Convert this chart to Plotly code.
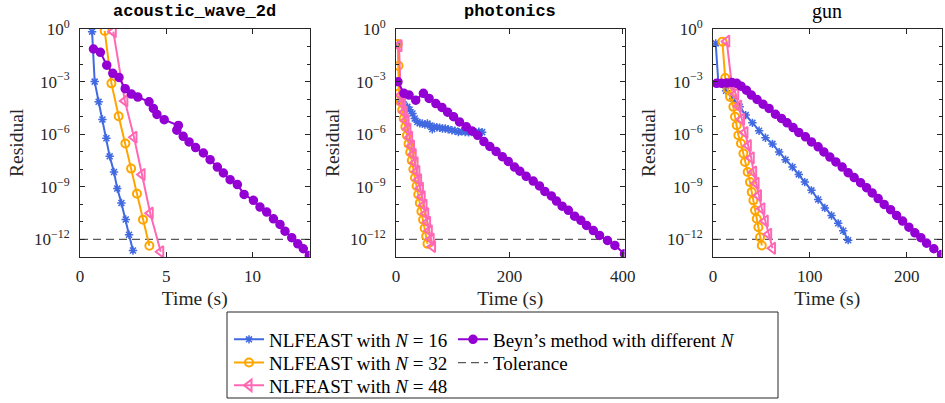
import plotly.graph_objects as go

# ---------------- data (time in s, log10 of residual) ----------------
TITLES = ["acoustic_wave_2d", "photonics", "gun"]
TOLERANCE = 1e-12
X_LIMITS = [13.3, 403, 236]
X_TICKS = [[0, 5, 10], [0, 200, 400], [0, 100, 200]]
Y_TICK_EXPONENTS = [0, -3, -6, -9, -12]
Y_MIN_EXPONENT = -13
X_LABEL = "Time (s)"
Y_LABEL = "Residual"

# acoustic_wave_2d
aw_n16_t = [0.70, 0.85, 1.08, 1.30, 1.53, 1.72, 1.97, 2.16, 2.40, 2.65, 2.84, 3.07]
aw_n16_log = [-0.15, -3.0, -4.15, -5.16, -6.23, -7.26, -8.15, -9.1, -9.92, -10.86, -11.73, -12.63]
aw_n32_t = [1.43, 1.82, 2.24, 2.63, 2.96, 3.30, 3.65, 4.02]
aw_n32_log = [-0.11, -3.1, -4.97, -6.53, -7.96, -9.39, -10.87, -12.36]
aw_n48_t = [1.93, 2.60, 3.13, 3.60, 4.07, 4.68]
aw_n48_log = [-0.15, -4.1, -6.17, -8.3, -10.5, -12.7]
aw_beyn_t = [0.78, 1.18, 1.55, 1.90, 2.26, 2.62, 2.98, 3.35, 4.00, 4.25, 4.46, 4.88, 5.70,
             5.61, 5.98, 6.32, 6.70, 7.15, 7.54, 7.96, 8.31, 8.70, 9.12, 9.51, 10.05, 10.43,
             10.82, 11.21, 11.59, 11.88, 12.27, 12.62, 12.94, 13.29]
aw_beyn_log = [-1.14, -1.33, -2.06, -2.53, -2.76, -3.40, -3.71, -3.88, -4.15, -4.53, -4.87, -5.17,
               -5.50, -5.77, -6.12, -6.44, -6.76, -7.07, -7.45, -7.87, -8.21, -8.59, -8.87, -9.43,
               -9.77, -10.15, -10.44, -10.82, -11.14, -11.53, -11.90, -12.25, -12.53, -12.91]

# photonics
ph_n16_t = [3.5, 8.3, 14, 20, 24, 29, 33, 37.7, 42, 46.5, 51, 55.4, 60, 64, 67, 72, 77, 82, 87,
            92, 98.6, 104, 110, 116, 122, 128, 134, 140, 146, 152]
ph_n16_log = [-0.91, -4.15, -4.3, -4.44, -4.6, -4.82, -5.1, -5.3, -5.38, -5.39, -5.45, -5.39,
              -5.5, -5.72, -5.58, -5.6, -5.63, -5.67, -5.67, -5.72, -5.77, -5.8, -5.87, -5.84,
              -5.87, -5.89, -5.87, -5.9, -5.86, -5.88]
ph_n32_t = [3.0, 4.5, 5.3, 8.0, 10.8, 13.6, 16.5, 19.3, 22.1, 25.0, 27.8, 30.6, 33.5, 36.3,
            39.2, 42.0, 44.8, 47.7, 50.5, 53.2, 55.5]
ph_n32_log = [-0.85, -2.1, -3.67, -4.15, -4.62, -5.1, -5.58, -6.07, -6.55, -7.03, -7.5, -8.0,
              -8.48, -8.95, -9.44, -9.92, -10.4, -10.88, -11.36, -11.82, -12.25]
ph_n48_t = [5.3, 8.3, 11.5, 14.6, 17.8, 21.0, 24.1, 27.3, 30.4, 33.6, 36.8, 39.9, 43.1, 46.2,
            49.4, 52.5, 55.7, 58.8, 62.0, 64.5]
ph_n48_log = [-0.95, -3.77, -4.25, -4.73, -5.22, -5.7, -6.18, -6.67, -7.15, -7.63, -8.12, -8.6,
              -9.08, -9.57, -10.05, -10.53, -11.02, -11.5, -11.98, -12.4]
ph_beyn_t = [3.5, 14, 23, 34.8, 48.3, 58.4, 70.3, 81, 91, 101.5, 112, 124, 134, 144, 155, 165.5,
             176.5, 187.5, 198, 209, 218.5, 229.6, 242, 253, 262.5, 274, 283, 293, 304, 315, 326,
             336, 348, 359, 373, 386, 403]
ph_beyn_log = [-3.01, -3.67, -3.77, -4.06, -3.67, -3.96, -4.25, -4.47, -4.74, -5.0, -5.3, -5.58,
               -5.81, -6.06, -6.42, -6.7, -6.98, -7.28, -7.55, -7.87, -8.11, -8.4, -8.67, -8.95,
               -9.26, -9.52, -9.81, -10.1, -10.34, -10.67, -10.91, -11.2, -11.49, -11.77,
               -12.06, -12.34, -12.82]

# gun
gun_n16_t = [2.8, 5.5, 13.5, 20.7, 27.6, 33.8, 40.7, 47.6, 54.2, 61.4, 68.3, 74.9, 82.1, 88.6,
             94.8, 101.7, 108.6, 115.5, 122.4, 129.3, 134.5, 139.6]
gun_n16_log = [-0.82, -3.05, -3.52, -3.98, -4.44, -4.91, -5.35, -5.8, -6.2, -6.55, -7.02, -7.45,
               -7.87, -8.29, -8.73, -9.2, -9.72, -10.2, -10.63, -11.08, -11.5, -12.04]
gun_n32_t = [9.7, 12.6, 15.0, 17.6, 21.0, 22.7, 24.5, 26.2, 28.9, 31.4, 33.0, 35.8, 38.2, 40.0,
             41.7, 43.4, 45.2, 46.9, 48.6, 50.4]
gun_n32_log = [-0.72, -2.8, -3.4, -3.87, -4.44, -5.0, -5.49, -6.06, -6.53, -7.1, -7.58, -8.15,
               -8.73, -9.3, -9.77, -10.34, -10.82, -11.3, -11.87, -12.34]
gun_n48_t = [14.2, 19.5, 23.5, 26.5, 29.5, 33.0, 36.5, 39.5, 42.0, 44.5, 47.0, 50.5, 54.0,
             57.5, 61.5]
gun_n48_log = [-0.7, -3.2, -3.7, -4.4, -5.15, -5.9, -6.65, -7.35, -8.15, -8.8, -9.5, -10.25,
               -10.95, -11.7, -12.5]
gun_beyn_t = [3.8, 9.0, 14.2, 19.5, 24.5, 29.0, 34.5, 39.6, 45.5, 51.7, 57.9, 64.5, 70.7, 76.5,
              82.7, 88.6, 95.5, 101.7, 108.6, 114.5, 120.7, 126.9, 133.4, 139.6, 145.8, 152.4,
              158.6, 164.4, 170.6, 176.8, 183.4, 189.6, 195.8, 202.3, 208.5, 214.7, 220.6,
              228.1, 236.0]
gun_beyn_log = [-3.1, -3.1, -3.08, -3.05, -3.1, -3.26, -3.49, -3.77, -4.02, -4.29, -4.53, -4.86,
                -5.1, -5.35, -5.62, -5.9, -6.15, -6.44, -6.72, -7.01, -7.3, -7.58, -7.87, -8.19,
                -8.47, -8.76, -9.05, -9.35, -9.67, -10.0, -10.3, -10.63, -10.95, -11.3, -11.62,
                -11.9, -12.21, -12.53, -12.86]

SERIES_NAMES = ["NLFEAST with <i>N</i> = 16", "NLFEAST with <i>N</i> = 32",
                "NLFEAST with <i>N</i> = 48", "Beyn’s method with different <i>N</i>"]
TOL_NAME = "Tolerance"

panels = [
    [(aw_n16_t, aw_n16_log), (aw_n32_t, aw_n32_log), (aw_n48_t, aw_n48_log), (aw_beyn_t, aw_beyn_log)],
    [(ph_n16_t, ph_n16_log), (ph_n32_t, ph_n32_log), (ph_n48_t, ph_n48_log), (ph_beyn_t, ph_beyn_log)],
    [(gun_n16_t, gun_n16_log), (gun_n32_t, gun_n32_log), (gun_n48_t, gun_n48_log), (gun_beyn_t, gun_beyn_log)],
]

# ---------------- styling ----------------
W, H = 945, 403
COLORS = ["#4169E1", "#FFA500", "#FF69B4", "#9400D3"]
SYMBOLS = ["asterisk-open", "circle-open", "triangle-left-open", "circle"]
SIZES = [7, 8, 10, 8]
AXCOL = "#262626"
SERIF = "Liberation Serif"

x_doms = [(80, 309.5), (396, 624.5), (713, 941.5)]
y_top, y_bot = 29, 257
Y_LABEL_X = [16, 332, 648]

# legend slots (one legend per entry, laid out as MATLAB's 2-column legend)
LEG_COL_X = [229, 453]
LEG_ROW_Y = [339.5, 362.7, 385.5]
series_slot = [(0, 0), (0, 1), (0, 2), (1, 0)]   # (column, row) for N16, N32, N48, Beyn
tol_slot = (1, 1)
LEG_BOX = (227, 312, 778, 398)


def px_x(p):
    return p / W


def px_y(p):
    return 1 - p / H


fig = go.Figure()

legend_layouts = {}


def legend_name(idx):
    return "legend" if idx == 0 else f"legend{idx+1}"


def add_legend(idx, slot):
    c, r = slot
    legend_layouts[legend_name(idx)] = dict(
        xref="container", yref="container",
        x=px_x(LEG_COL_X[c]), y=px_y(LEG_ROW_Y[r]), xanchor="left", yanchor="middle",
        bgcolor="rgba(0,0,0,0)", borderwidth=0,
        font=dict(family=SERIF, size=19, color="black"),
        itemwidth=30, tracegroupgap=0,
    )


for k in range(4):
    add_legend(k, series_slot[k])
add_legend(4, tol_slot)

for i, series in enumerate(panels):
    xa = "x" if i == 0 else f"x{i+1}"
    ya = "y" if i == 0 else f"y{i+1}"
    fig.add_trace(go.Scatter(
        x=[0, X_LIMITS[i]], y=[TOLERANCE, TOLERANCE], mode="lines",
        line=dict(color="#595959", width=1.3, dash="8px,5px"),
        name=TOL_NAME, showlegend=(i == 0), legend=legend_name(4),
        xaxis=xa, yaxis=ya))
    for k, (t, lg) in enumerate(series):
        fig.add_trace(go.Scatter(
            x=t, y=[10 ** v for v in lg], mode="lines+markers",
            line=dict(color=COLORS[k], width=2),
            marker=dict(symbol=SYMBOLS[k], size=SIZES[k], color=COLORS[k],
                        line=dict(color=COLORS[k], width=2 if k in (1, 2) else 1.5)),
            name=SERIES_NAMES[k], showlegend=(i == 0), legend=legend_name(k),
            xaxis=xa, yaxis=ya))

layout = dict(
    width=W, height=H,
    margin=dict(l=0, r=0, t=0, b=0, pad=0, autoexpand=False),
    paper_bgcolor="white", plot_bgcolor="white",
    font=dict(family=SERIF, size=17, color=AXCOL),
    showlegend=True,
    shapes=[dict(type="rect", xref="paper", yref="paper",
                 x0=px_x(LEG_BOX[0]), x1=px_x(LEG_BOX[2]),
                 y0=px_y(LEG_BOX[3]), y1=px_y(LEG_BOX[1]),
                 line=dict(color=AXCOL, width=1), fillcolor="rgba(0,0,0,0)", layer="below")],
)
layout.update(legend_layouts)

y_tickvals = [10 ** e for e in Y_TICK_EXPONENTS]
y_ticktext = [f"10<sup>{'−' + str(-e) if e < 0 else e}</sup>" for e in Y_TICK_EXPONENTS]
minor_vals = [10 ** (-k) for k in range(0, 14)]

annotations = []
for i in range(3):
    sx = "" if i == 0 else str(i + 1)
    x0, x1 = x_doms[i]
    layout[f"xaxis{sx}"] = dict(
        domain=[px_x(x0), px_x(x1)], range=[0, X_LIMITS[i]], automargin=False,
        anchor=f"y{sx}", showline=True, linecolor=AXCOL, linewidth=1, mirror="allticks",
        ticks="inside", ticklen=5, tickcolor=AXCOL, tickvals=X_TICKS[i],
        showgrid=False, zeroline=False, tickfont=dict(family=SERIF, size=17, color=AXCOL),
        ticklabelstandoff=4,
        title=dict(text=X_LABEL, font=dict(family=SERIF, size=19.5, color=AXCOL), standoff=5),
    )
    layout[f"yaxis{sx}"] = dict(
        domain=[px_y(y_bot), px_y(y_top)], type="log", range=[Y_MIN_EXPONENT, 0], automargin=False,
        anchor=f"x{sx}", showline=True, linecolor=AXCOL, linewidth=1, mirror="allticks",
        ticks="inside", ticklen=5, tickcolor=AXCOL,
        tickvals=y_tickvals, ticktext=y_ticktext,
        minor=dict(tickvals=minor_vals, ticks="inside", ticklen=3, tickcolor=AXCOL, showgrid=False),
        showgrid=False, zeroline=False, tickfont=dict(family=SERIF, size=17, color=AXCOL),
        ticklabelstandoff=6,
    )
    # y-axis label
    annotations.append(dict(
        text=Y_LABEL, xref="paper", yref="paper", textangle=-90,
        x=px_x(Y_LABEL_X[i]), y=px_y((y_top + y_bot) / 2), xanchor="center", yanchor="middle",
        showarrow=False, font=dict(family=SERIF, size=19.5, color=AXCOL),
    ))
    # panel title
    is_tt = i < 2
    annotations.append(dict(
        text=TITLES[i], xref="paper", yref="paper",
        x=px_x((x0 + x1) / 2), y=px_y(12), xanchor="center", yanchor="middle",
        showarrow=False,
        font=dict(family="Liberation Mono" if is_tt else SERIF,
                  size=17 if is_tt else 20, color="black",
                  weight="bold" if is_tt else "normal"),
    ))

layout["annotations"] = annotations
fig.update_layout(**layout)
# remove the browser's default 8px body margin so the figure sits at the page origin
fig.write_html("out.html", config={"displayModeBar": False},
               post_script="document.body.style.margin='0px';")
